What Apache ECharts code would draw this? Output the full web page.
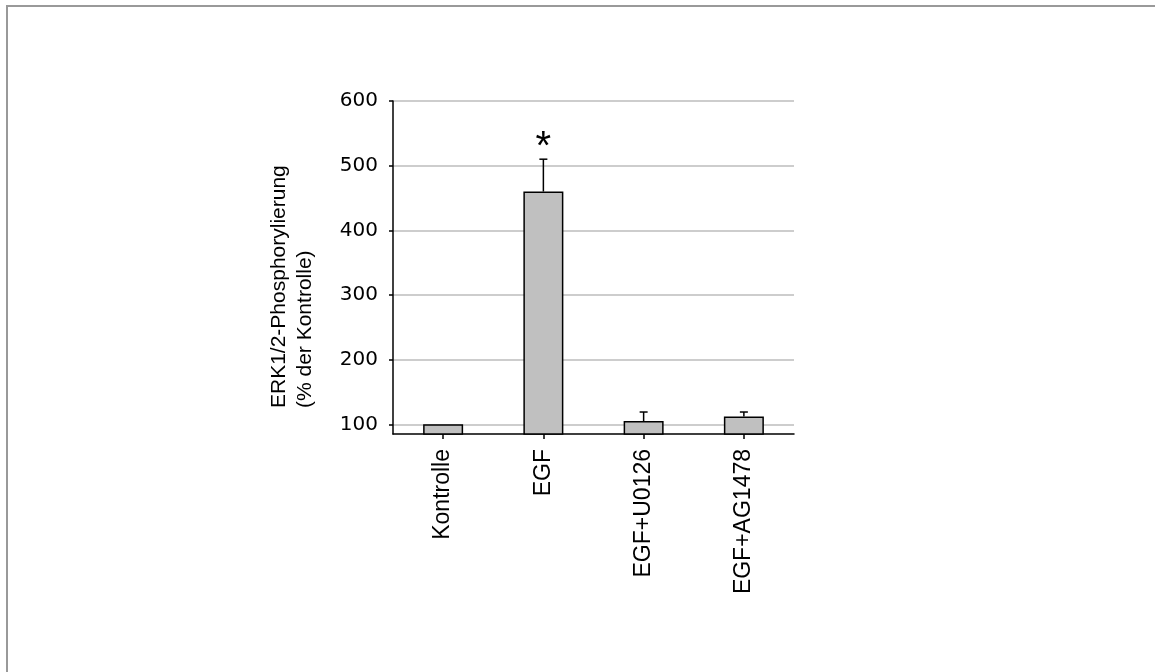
<!DOCTYPE html>
<html>
<head>
<meta charset="utf-8">
<title>ERK1/2-Phosphorylierung</title>
<script src="https://cdn.jsdelivr.net/npm/echarts@6/dist/echarts.min.js"></script>
<style>
  html, body { margin: 0; padding: 0; background: #ffffff; }
  #frame {
    position: absolute; left: 6px; top: 5px; width: 1149px; height: 667px;
    border-top: 2px solid #999999; border-left: 2px solid #999999;
    box-sizing: border-box; z-index: 0;
  }
  #chart { position: absolute; left: 0; top: 0; width: 1155px; height: 672px; z-index: 1; }
  .fontwarm { position: absolute; left: -9999px; top: 0; visibility: hidden; }
</style>
</head>
<body>
<div id="frame"></div>
<div id="chart"></div>
<span class="fontwarm" style="font-family:'Liberation Sans'">Kontrolle EGF*</span>
<span class="fontwarm" style="font-family:'DejaVu Sans'">600</span>
<script>
// Treatment groups
const categories = ['Kontrolle', 'EGF', 'EGF+U0126', 'EGF+AG1478'];
// Mean phosphorylation, % of control
const values = [100, 460, 105, 112];
// Upper error (SEM), same units
const errors = [0, 50, 14, 7];
// Significance markers
const significance = ['', '*', '', ''];
// Y axis ticks
const yTicks = [100, 200, 300, 400, 500, 600];
const yMin = 85;
const yMax = 600;

const SANS = "'Liberation Sans', Arial, sans-serif";
const TICKFONT = "'DejaVu Sans', Verdana, sans-serif";

function draw() {
  const chart = echarts.init(document.getElementById('chart'), null, { renderer: 'canvas' });
  const errorData = categories.map((c, i) => [i, values[i], values[i] + errors[i], significance[i]]);

  const option = {
    backgroundColor: 'transparent',
    animation: false,
    grid: { left: 393, top: 101, width: 401, height: 333, containLabel: false },
    xAxis: {
      type: 'category',
      data: categories,
      boundaryGap: true,
      axisLine: { show: true, lineStyle: { color: '#000000', width: 1.5 } },
      axisTick: { show: true, alignWithLabel: true, length: 5, lineStyle: { color: '#000000', width: 1.5 } },
      axisLabel: {
        rotate: 90, margin: 15, interval: 0,
        fontFamily: SANS, fontSize: 23, color: '#000000'
      },
      splitLine: { show: false }
    },
    yAxis: {
      type: 'value',
      min: yMin,
      max: yMax,
      axisLine: { show: true, lineStyle: { color: '#000000', width: 1.5 } },
      axisTick: { show: true, length: 4, customValues: yTicks, lineStyle: { color: '#000000', width: 1.5 } },
      axisLabel: {
        customValues: yTicks, margin: 15,
        fontFamily: TICKFONT, fontSize: 20, color: '#000000'
      },
      splitLine: { show: true, lineStyle: { color: '#bdbdbd', width: 1.5 } }
    },
    graphic: [{
      type: 'text',
      x: 292, y: 408,
      rotation: Math.PI / 2,
      style: {
        text: 'ERK1/2-Phosphorylierung\n(% der Kontrolle)',
        fontFamily: SANS,
        fontSize: 21,
        fill: '#000000',
        align: 'left',
        verticalAlign: 'middle',
        lineHeight: 26
      }
    }],
    series: [
      {
        type: 'bar',
        data: values,
        barWidth: 40,
        itemStyle: { color: '#c0c0c0', borderColor: '#000000', borderWidth: 1.5 },
        z: 2
      },
      {
        type: 'custom',
        data: errorData,
        z: 3,
        renderItem: function (params, api) {
          const i = api.value(0);
          const base = api.coord([i, api.value(1)]);
          const top = api.coord([i, api.value(2)]);
          const mark = errorData[params.dataIndex][3];
          const children = [];
          if (api.value(2) > api.value(1)) {
            children.push({
              type: 'line',
              shape: { x1: base[0], y1: base[1], x2: top[0], y2: top[1] },
              style: { stroke: '#000000', lineWidth: 1.5 }
            });
            children.push({
              type: 'line',
              shape: { x1: top[0] - 4, y1: top[1], x2: top[0] + 4, y2: top[1] },
              style: { stroke: '#000000', lineWidth: 1.5 }
            });
          }
          if (mark) {
            children.push({
              type: 'text',
              x: top[0], y: top[1] + 9,
              style: {
                text: mark, fontFamily: SANS, fontSize: 40, fill: '#000000',
                align: 'center', verticalAlign: 'bottom'
              }
            });
          }
          return { type: 'group', children: children };
        }
      }
    ]
  };
  chart.setOption(option);
}

if (document.fonts && document.fonts.load) {
  Promise.all([
    document.fonts.load("22px 'Liberation Sans'"),
    document.fonts.load("20px 'DejaVu Sans'")
  ]).then(draw, draw);
} else {
  draw();
}
</script>
</body>
</html>
